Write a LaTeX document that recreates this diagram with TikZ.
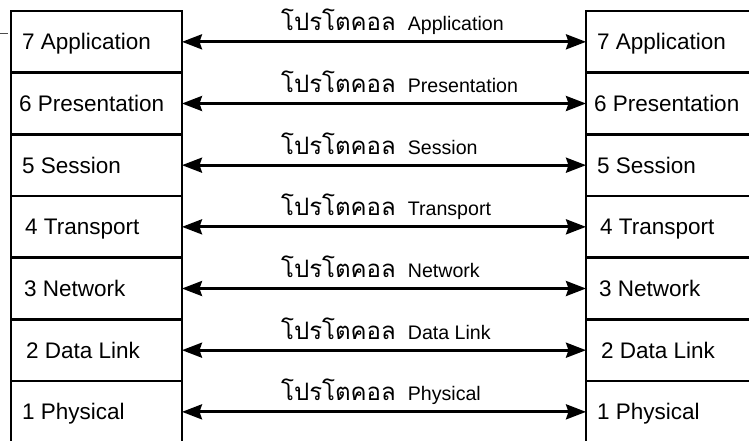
\documentclass[tikz,border=0pt]{standalone}
\usepackage{fontspec}
\setmainfont{Liberation Sans}
\newfontfamily\thaifont[Script=Thai]{Loma}
\usetikzlibrary{arrows.meta}

\tikzset{
  layerbox/.style={draw, line width=2.8pt, minimum height=61.67pt,
    inner sep=0pt, outer sep=0pt, anchor=north west},
  leftbox/.style={layerbox, minimum width=171pt},
  rightbox/.style={layerbox, minimum width=180pt},
  layertext/.style={anchor=base west, inner sep=0pt,
    font=\fontsize{22.5}{26}\selectfont},
  protolabel/.style={anchor=base west, inner sep=0pt,
    font=\fontsize{19.6}{22}\selectfont},
  peer/.style={{Stealth[length=20pt,width=15pt,inset=2.5pt]}-{Stealth[length=20pt,width=15pt,inset=2.5pt]},
    line width=2.8pt}
}
\newcommand{\thaiword}[1]{{\thaifont\fontsize{24}{27}\selectfont #1}}

\begin{document}
\begin{tikzpicture}[x=1pt,y=-1pt]
  \useasboundingbox (0,0) rectangle (749,441);
  \clip (0,0) rectangle (749,441);

  % short stray tick at the top left
  \draw[line width=0.8pt, black!70] (0,33) -- (8,33);

  \foreach \n/\name/\dx [count=\i from 0] in
    {7/Application/11, 6/Presentation/8, 5/Session/11, 4/Transport/14,
     3/Network/13, 2/Data Link/15, 1/Physical/11} {
    % the two protocol stacks
    \node[leftbox]  (l\n) at (11, 11+\i*61.67) {};
    \node[rightbox] (r\n) at (586, 11+\i*61.67) {};
    \node[layertext] (lt\n) at ([xshift=\dx pt, yshift=-8pt]l\n.west) {\n\ \name};
    \node[layertext] (rt\n) at ([xshift=\dx pt, yshift=-8pt]r\n.west) {\n\ \name};
    % peer-to-peer protocol between matching layers
    \draw[peer] (l\n.east) -- (r\n.west);
    \node[protolabel] (p\n) at ([xshift=99pt, yshift=11pt]l\n.east)
      {\thaiword{โปรโตคอล}\hspace{12pt}\name};
  }
\end{tikzpicture}
\end{document}
